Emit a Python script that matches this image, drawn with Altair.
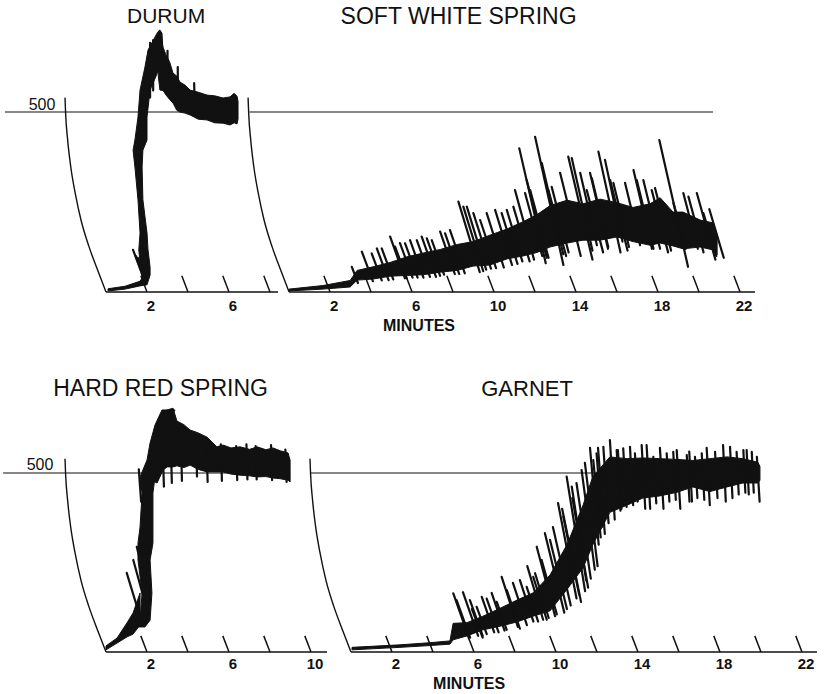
import altair as alt
import numpy as np
import pandas as pd

# ---------------- values ----------------
# common recorder pen arc (minutes relative to trace start, units)
arc_dt = [-2.0, -1.97, -1.87, -1.72, -1.5, -1.22, -0.83, -0.41, 0.0]
arc_u = [540, 496, 422, 348, 274, 200, 126, 61, 0]

titles = ["DURUM", "SOFT WHITE SPRING", "HARD RED SPRING", "GARNET"]

# DURUM
durum_flat_t = [0.1, 0.93, 1.66, 1.95]
durum_flat_lo = [3, 8, 17, 20]
durum_flat_hi = [9, 16, 30, 55]
durum_rise_u = [20, 47, 69, 117, 164, 256, 347, 394, 422, 486, 561, 625, 672, 719, 727]
durum_rise_tl = [1.85, 1.75, 1.68, 1.6, 1.66, 1.56, 1.41, 1.32, 1.41, 1.56, 1.66, 1.90, 2.05, 2.49, 2.6]
durum_rise_tr = [2.0, 2.15, 2.15, 2.05, 2.0, 1.80, 1.76, 1.80, 2.0, 2.0, 2.15, 2.63, 2.78, 2.73, 2.64]
durum_band_t = [2.55, 2.63, 2.78, 2.93, 3.1, 3.27, 3.45, 3.61, 3.85, 4.10, 4.5, 4.93, 5.3, 5.71, 6.05, 6.25, 6.39, 6.44]
durum_band_lo = [600, 561, 560, 547, 535, 525, 505, 500, 497, 492, 480, 478, 470, 469, 464, 470, 467, 480]
durum_band_hi = [700, 719, 680, 658, 640, 608, 600, 583, 575, 561, 555, 547, 545, 539, 542, 552, 544, 530]
durum_spike_t = [1.32, 1.45, 1.55, 2.15, 2.3, 3.0, 3.5, 4.3]
durum_spike_top = [117, 100, 95, 692, 700, 670, 625, 580]
durum_spike_bot = [40, 35, 30, 540, 560, 560, 520, 490]
durum_ticks = [2, 4, 6, 8]
durum_labels = [2, 6]

# SOFT WHITE SPRING
sws_band_t = [0.0, 1.66, 2.98, 3.32, 4.10, 4.93, 5.76, 6.54, 7.37, 8.20, 8.98, 9.80, 10.63, 11.41,
              12.10, 12.73, 13.56, 14.34, 15.17, 16.0, 16.78, 17.61, 18.10, 18.73, 19.22, 20.05, 20.68, 20.88]
sws_band_lo = [3, 8, 14, 33, 36, 44, 46, 48, 55, 60, 72, 75, 92, 100,
               110, 125, 136, 144, 144, 153, 140, 130, 136, 128, 120, 125, 117, 103]
sws_band_hi = [8, 18, 32, 60, 70, 82, 98, 108, 118, 132, 140, 158, 175, 195,
               215, 240, 255, 245, 258, 248, 235, 245, 262, 222, 222, 200, 192, 158]
sws_spike_t = [3.06, 3.55, 4.03, 4.28, 4.52, 4.93, 5.17, 5.41, 5.66, 5.90, 6.23, 6.47, 6.72, 6.96,
               7.37, 7.61, 7.85, 8.26, 8.50, 8.67, 8.99, 9.32, 9.64, 10.05, 10.37, 10.62, 10.94,
               11.02, 11.23, 11.51, 11.59, 11.76, 12.0, 12.33, 12.65, 12.81, 13.22, 13.62, 13.79,
               14.20, 14.52, 14.68, 14.77, 15.09, 15.41, 15.66, 15.82, 16.39, 16.80, 16.96, 17.28,
               17.69, 17.85, 18.06, 18.75, 19.23, 19.48, 19.89, 20.21, 20.5]
sws_spike_top = [70, 112, 107, 121, 121, 154, 126, 136, 135, 144, 144, 154, 149, 144,
                 168, 163, 172, 251, 237, 237, 219, 200, 219, 228, 219, 228, 237,
                 283, 399, 275, 311, 283, 431, 358, 283, 292, 331, 376, 372,
                 331, 283, 331, 316, 390, 367, 311, 303, 303, 339, 311, 311,
                 283, 289, 422, 247, 275, 265, 275, 219, 230]
sws_spike_bot = [25, 30, 32, 33, 35, 38, 38, 40, 40, 40, 42, 42, 45, 48,
                 50, 50, 52, 55, 58, 62, 65, 66, 68, 75, 78, 85, 85,
                 90, 80, 100, 95, 95, 75, 105, 100, 110, 100, 90, 115,
                 130, 110, 120, 125, 110, 140, 115, 125, 130, 120, 120, 120,
                 110, 115, 70, 120, 120, 110, 90, 100, 95]
sws_ticks = [2, 4, 6, 8, 10, 12, 14, 16, 18, 20, 22]
sws_labels = [2, 6, 10, 14, 18, 22]

# HARD RED SPRING
hrs_flat_t = [0.0, 0.54, 1.02, 1.32, 1.66]
hrs_flat_lo = [6, 25, 42, 50, 75]
hrs_flat_hi = [17, 39, 81, 109, 165]
hrs_rise_u = [70, 89, 165, 257, 304, 349, 444, 489, 536, 584, 634, 676]
hrs_rise_tl = [1.6, 1.66, 1.76, 1.56, 1.56, 1.66, 1.76, 1.66, 2.0, 2.15, 2.39, 2.73]
hrs_rise_tr = [1.9, 2.15, 2.24, 2.15, 2.29, 2.29, 2.29, 2.39, 2.49, 2.63, 2.88, 3.37]
hrs_band_t = [2.2, 2.49, 2.78, 2.98, 3.27, 3.46, 3.8, 4.10, 4.5, 4.93, 5.41, 5.71, 6.1, 6.54, 7.0, 7.37, 7.8, 8.15, 8.5, 8.88, 8.98]
hrs_band_lo = [480, 472, 508, 517, 517, 520, 515, 522, 510, 503, 503, 503, 497, 494, 492, 489, 490, 486, 484, 480, 475]
hrs_band_hi = [560, 640, 670, 676, 681, 645, 635, 620, 612, 600, 573, 578, 570, 573, 566, 573, 565, 570, 562, 556, 536]
hrs_spike_t = [1.01, 1.33, 1.5, 1.6, 2.75, 3.15, 3.65, 4.4, 4.9, 5.6, 6.35, 6.85, 7.3, 8.05, 8.75]
hrs_spike_top = [221, 257, 294, 510, 600, 610, 600, 600, 585, 580, 575, 580, 575, 578, 565]
hrs_spike_bot = [95, 110, 140, 420, 462, 472, 478, 490, 475, 478, 480, 482, 482, 480, 475]
hrs_ticks = [2, 4, 6, 8, 10]
hrs_labels = [2, 6, 10]

# GARNET
garnet_band_t = [0.05, 2.39, 3.85, 4.83, 4.98, 5.66, 6.44, 7.27, 8.10, 8.88, 9.71, 10.54, 11.32, 11.80,
                 12.63, 13.46, 14.24, 15.07, 15.90, 16.68, 17.51, 18.34, 19.12, 19.85, 19.95]
garnet_band_lo = [6, 13, 18, 22, 34, 45, 62, 72, 84, 100, 115, 175, 235, 300,
                  390, 410, 430, 436, 446, 461, 448, 461, 472, 472, 480]
garnet_band_hi = [13, 20, 26, 31, 80, 82, 100, 122, 145, 165, 215, 300, 410, 490,
                  545, 540, 542, 540, 538, 535, 540, 545, 540, 530, 518]
garnet_spike_t = [4.99, 5.15, 5.46, 5.80, 5.9, 6.13, 6.38, 6.62, 6.86, 7.11, 7.35, 7.6, 7.90, 8.24,
                  8.57, 8.6, 8.89, 8.98, 9.06, 9.30, 9.46, 9.71, 9.85, 10.1, 10.3, 10.36, 10.52,
                  10.77, 10.8, 11.0, 11.25, 11.41, 11.66, 11.82, 11.98, 12.05, 12.31, 12.63,
                  12.96, 13.02, 13.28, 13.61, 13.85, 14.18, 14.42, 14.75, 15.07, 15.40, 15.72,
                  15.89, 16.38, 16.5, 16.78, 17.11, 17.35, 17.76, 18.15, 18.49, 18.81, 19.14,
                  19.3, 19.55, 19.8]
garnet_spike_top = [164, 145, 167, 145, 120, 126, 154, 149, 165, 140, 210, 173, 193, 201,
                    182, 240, 210, 220, 294, 257, 332, 313, 349, 416, 400, 378, 490,
                    462, 430, 472, 508, 528, 570, 536, 555, 570, 573, 592,
                    564, 564, 569, 573, 555, 578, 578, 545, 570, 555, 559,
                    564, 550, 560, 545, 555, 570, 559, 578, 573, 559, 564,
                    564, 559, 545]
garnet_spike_bot = [40, 40, 45, 45, 40, 50, 55, 55, 60, 62, 70, 65, 75, 85,
                    85, 90, 90, 95, 100, 105, 110, 120, 130, 150, 140, 160, 170,
                    200, 180, 205, 230, 240, 300, 320, 350, 330, 360, 370,
                    395, 400, 405, 410, 420, 400, 400, 415, 400, 420, 425,
                    400, 420, 420, 430, 425, 410, 430, 420, 430, 440, 445,
                    440, 445, 420]
garnet_ticks = [2, 4, 6, 8, 10, 12, 14, 16, 18, 20, 22]
garnet_labels = [2, 6, 10, 14, 18, 22]

# ---------------- layout (positions / styles) ----------------
W, H = 829, 347
INK = "#111111"
FONT = "Liberation Sans"
X_DOMAIN = [-5.171, 35.268]
Y_DOMAINS = [[-152.8, 811.2], [-117.3, 851.9]]
TICK_H = 45

LAYOUT = {
    "DURUM": dict(row=0, off=0.0, axis_end=8.39, hline=(-4.93, 6.44), title_t=2.93, fs=21),
    "SOFT WHITE SPRING": dict(row=0, off=8.93, axis_end=22.73, hline=(-1.93, 20.68), title_t=8.27, fs=23),
    "HARD RED SPRING": dict(row=1, off=0.0, axis_end=10.78, hline=(-5.02, 8.98), title_t=2.66, fs=23),
    "GARNET": dict(row=1, off=11.95, axis_end=22.73, hline=(-1.95, 19.8), title_t=8.59, fs=22),
}
ROW_TEXT = [
    dict(title_u=764, label_u=-39, minutes=("SOFT WHITE SPRING", 6.34, -94.5), five=(-3.12, 519.5)),
    dict(title_u=734.6, label_u=-33.5, minutes=("GARNET", 5.76, -89.4), five=(-3.22, 522)),
]

SERIES = {
    "DURUM": dict(
        flat=(durum_flat_t, durum_flat_lo, durum_flat_hi),
        band=(durum_band_t, durum_band_lo, durum_band_hi),
        rise=(durum_rise_u, durum_rise_tl, durum_rise_tr),
        spikes=(durum_spike_t, durum_spike_top, durum_spike_bot),
        ticks=durum_ticks, labels=durum_labels),
    "SOFT WHITE SPRING": dict(
        flat=None,
        band=(sws_band_t, sws_band_lo, sws_band_hi),
        rise=None,
        spikes=(sws_spike_t, sws_spike_top, sws_spike_bot),
        ticks=sws_ticks, labels=sws_labels),
    "HARD RED SPRING": dict(
        flat=(hrs_flat_t, hrs_flat_lo, hrs_flat_hi),
        band=(hrs_band_t, hrs_band_lo, hrs_band_hi),
        rise=(hrs_rise_u, hrs_rise_tl, hrs_rise_tr),
        spikes=(hrs_spike_t, hrs_spike_top, hrs_spike_bot),
        ticks=hrs_ticks, labels=hrs_labels),
    "GARNET": dict(
        flat=None,
        band=(garnet_band_t, garnet_band_lo, garnet_band_hi),
        rise=None,
        spikes=(garnet_spike_t, garnet_spike_top, garnet_spike_bot),
        ticks=garnet_ticks, labels=garnet_labels),
}

arc_u_inc = np.array(arc_u[::-1], dtype=float)
arc_dt_inc = np.array(arc_dt[::-1], dtype=float)


def arc_shift(u):
    return np.interp(u, arc_u_inc, arc_dt_inc)


def row_chart(r):
    XS = alt.Scale(domain=X_DOMAIN, nice=False, zero=False)
    YS = alt.Scale(domain=Y_DOMAINS[r], nice=False, zero=False)
    bx = lambda f: alt.X(f"{f}:Q", scale=XS, axis=None)
    by = lambda f: alt.Y(f"{f}:Q", scale=YS, axis=None)

    bands, rises, spikes, arcs, bases, hlines, ticks, labels, texts = ([] for _ in range(9))
    names = [n for n in titles if LAYOUT[n]["row"] == r]
    for n in names:
        L, S = LAYOUT[n], SERIES[n]
        off = L["off"]
        for key in ("flat", "band"):
            if S[key]:
                t, lo, hi = S[key]
                for a, b, c in zip(t, lo, hi):
                    bands.append(dict(seg=f"{n}-{key}", x=a + off, lo=b, hi=c))
        if S["rise"]:
            u, tl, tr = S["rise"]
            for a, b, c in zip(u, tl, tr):
                rises.append(dict(seg=n, u=a, tl=b + off, tr=c + off))
        t, top, bot = S["spikes"]
        for a, b, c in zip(t, top, bot):
            spikes.append(dict(x=a + off, y=b, y2=c,
                               x2=a + off + float(arc_shift(c) - arc_shift(b))))
        for i, (a, b) in enumerate(zip(arc_dt, arc_u)):
            arcs.append(dict(s=n, i=i, x=a + off, y=b))
        bases.append(dict(x=off, x2=L["axis_end"] + off, y=0))
        hlines.append(dict(x=L["hline"][0] + off, x2=L["hline"][1] + off, y=500))
        for tk in S["ticks"]:
            ticks.append(dict(x=tk + off + float(arc_shift(TICK_H) - arc_shift(0)), y=TICK_H,
                              x2=tk + off, y2=0))
        for lb in S["labels"]:
            labels.append(dict(x=lb + off, y=ROW_TEXT[r]["label_u"], text=str(lb)))
        texts.append(dict(x=L["title_t"] + off, y=ROW_TEXT[r]["title_u"], text=n, fs=L["fs"]))

    ms, mt, mu = ROW_TEXT[r]["minutes"]
    minutes = [dict(x=mt + LAYOUT[ms]["off"], y=mu, text="MINUTES")]
    five = [dict(x=ROW_TEXT[r]["five"][0], y=ROW_TEXT[r]["five"][1], text="500")]

    title_layers = [
        alt.Chart(pd.DataFrame([tx])).mark_text(font=FONT, fontSize=tx["fs"], color=INK,
                                                baseline="middle", align="center").encode(
            x=bx("x"), y=by("y"), text="text:N")
        for tx in texts
    ]

    layers = [
        alt.Chart(pd.DataFrame(hlines)).mark_rule(color=INK, strokeWidth=1.2).encode(
            x=bx("x"), x2="x2:Q", y=by("y")),
        alt.Chart(pd.DataFrame(bases)).mark_rule(color=INK, strokeWidth=1.5).encode(
            x=bx("x"), x2="x2:Q", y=by("y")),
        alt.Chart(pd.DataFrame(arcs)).mark_line(color=INK, strokeWidth=1.4, interpolate="monotone").encode(
            x=bx("x"), y=by("y"), detail="s:N", order="i:Q"),
        alt.Chart(pd.DataFrame(ticks)).mark_rule(color=INK, strokeWidth=1.5).encode(
            x=bx("x"), y=by("y"), x2="x2:Q", y2="y2:Q"),
        alt.Chart(pd.DataFrame(bands)).mark_area(color=INK, opacity=1, stroke=INK, strokeWidth=1).encode(
            x=bx("x"), y=by("lo"), y2="hi:Q", detail="seg:N"),
        alt.Chart(pd.DataFrame(spikes)).mark_rule(color=INK, strokeWidth=2.2, strokeCap="round").encode(
            x=bx("x"), y=by("y"), x2="x2:Q", y2="y2:Q"),
        alt.Chart(pd.DataFrame(labels)).mark_text(font=FONT, fontSize=15, fontWeight="bold", color=INK,
                                                  baseline="middle", align="center", dx=4).encode(
            x=bx("x"), y=by("y"), text="text:N"),
        alt.Chart(pd.DataFrame(minutes)).mark_text(font=FONT, fontSize=16, fontWeight="bold", color=INK,
                                                   baseline="middle", align="center").encode(
            x=bx("x"), y=by("y"), text="text:N"),
        alt.Chart(pd.DataFrame(five)).mark_text(font=FONT, fontSize=16, color=INK,
                                                baseline="middle", align="center").encode(
            x=bx("x"), y=by("y"), text="text:N"),
    ] + title_layers
    if rises:
        layers.append(
            alt.Chart(pd.DataFrame(rises)).mark_area(orient="horizontal", color=INK, stroke=INK, strokeWidth=1).encode(
                y=by("u"), x=bx("tl"), x2="tr:Q", detail="seg:N"))
    return alt.layer(*layers).properties(width=W, height=H)


chart = alt.vconcat(row_chart(0), row_chart(1), spacing=0, bounds="flush").properties(
    padding=0, background="white").configure_view(stroke=None)

chart.save("out.html", embed_options={"renderer": "svg", "actions": False})
